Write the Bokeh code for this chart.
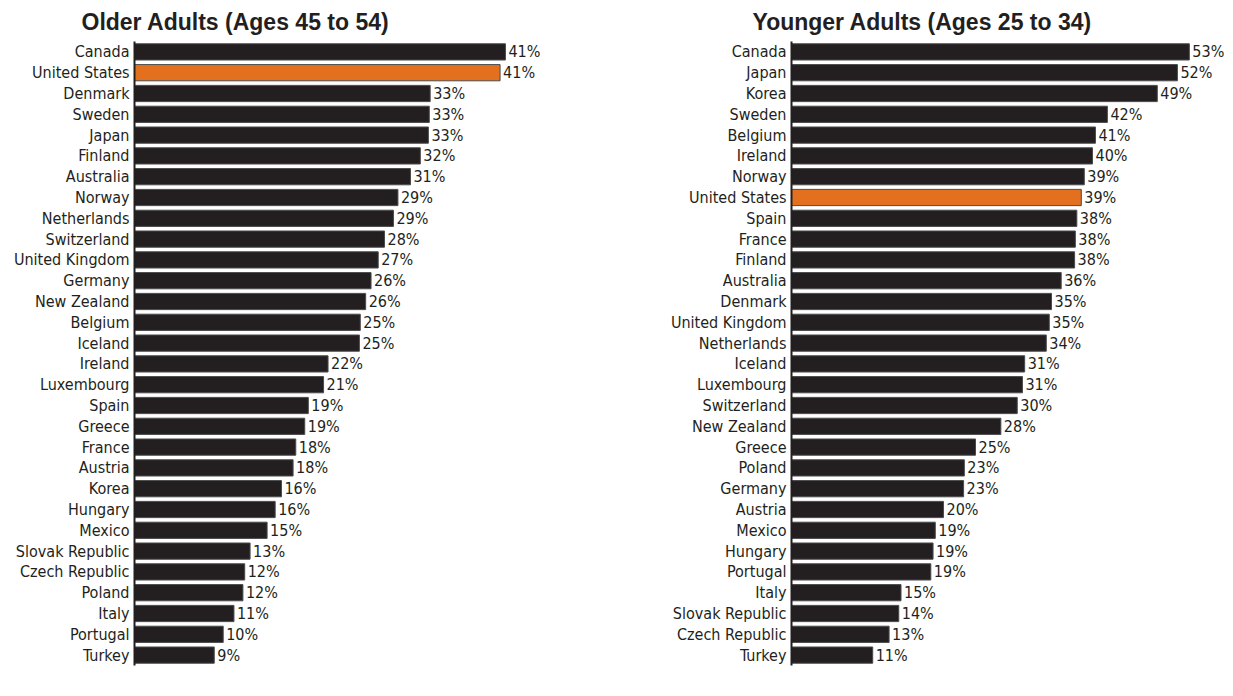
from bokeh.plotting import figure
from bokeh.models import FactorRange, ColumnDataSource, Range1d
from bokeh.layouts import row
from bokeh.embed import file_html
from bokeh.resources import INLINE
from bokeh.core.properties import value

# ---------------- data ----------------
older_countries = ["Canada", "United States", "Denmark", "Sweden", "Japan", "Finland",
                   "Australia", "Norway", "Netherlands", "Switzerland", "United Kingdom",
                   "Germany", "New Zealand", "Belgium", "Iceland", "Ireland", "Luxembourg",
                   "Spain", "Greece", "France", "Austria", "Korea", "Hungary", "Mexico",
                   "Slovak Republic", "Czech Republic", "Poland", "Italy", "Portugal", "Turkey"]
older_values = [41.4, 40.8, 33.0, 32.9, 32.8, 31.9, 30.8, 29.4, 28.9, 27.9, 27.2,
                26.4, 25.8, 25.2, 25.1, 21.6, 21.1, 19.4, 19.0, 18.0, 17.7, 16.4,
                15.7, 14.8, 12.9, 12.3, 12.1, 11.1, 9.9, 8.9]
older_labels = ["41%", "41%", "33%", "33%", "33%", "32%", "31%", "29%", "29%", "28%", "27%",
                "26%", "26%", "25%", "25%", "22%", "21%", "19%", "19%", "18%", "18%", "16%",
                "16%", "15%", "13%", "12%", "12%", "11%", "10%", "9%"]

younger_countries = ["Canada", "Japan", "Korea", "Sweden", "Belgium", "Ireland", "Norway",
                     "United States", "Spain", "France", "Finland", "Australia", "Denmark",
                     "United Kingdom", "Netherlands", "Iceland", "Luxembourg", "Switzerland",
                     "New Zealand", "Greece", "Poland", "Germany", "Austria", "Mexico",
                     "Hungary", "Portugal", "Italy", "Slovak Republic", "Czech Republic", "Turkey"]
younger_values = [53.4, 51.8, 49.1, 42.4, 40.8, 40.4, 39.3, 38.9, 38.3, 38.1, 38.0, 36.2,
                  34.9, 34.6, 34.2, 31.3, 31.0, 30.3, 28.1, 24.7, 23.2, 23.1, 20.4, 19.3,
                  19.0, 18.7, 14.7, 14.4, 13.1, 10.9]
younger_labels = ["53%", "52%", "49%", "42%", "41%", "40%", "39%", "39%", "38%", "38%", "38%",
                  "36%", "35%", "35%", "34%", "31%", "31%", "30%", "28%", "25%", "23%", "23%",
                  "20%", "19%", "19%", "19%", "15%", "14%", "13%", "11%"]

highlight = "United States"

FONT = "DejaVu Sans Condensed"
FSIZE = "16px"
TEXT_COLOR = "#231f20"
BAR_COLOR = "#231f20"
HIGHLIGHT_COLOR = "#e2701f"


def make_panel(title, countries, values, labels, width, border_left, border_right,
               x_end, title_offset):
    colors = [HIGHLIGHT_COLOR if c == highlight else BAR_COLOR for c in countries]
    src = ColumnDataSource(dict(country=countries, val=values, lab=labels, color=colors))
    p = figure(width=width, height=685, output_backend="svg", toolbar_location=None,
               y_range=FactorRange(factors=list(reversed(countries)), range_padding=0),
               x_range=Range1d(0, x_end),
               min_border_left=border_left, min_border_right=border_right,
               min_border_top=39, min_border_bottom=20, title=title)
    p.hbar(y="country", right="val", left=0, height=0.78, source=src,
           fill_color="color", line_color="#4a4a4a", line_width=1)
    p.text(x="val", y="country", text="lab", source=src, x_offset=3,
           text_align="left", text_baseline="middle",
           text_font=value(FONT), text_font_size=FSIZE, text_color=TEXT_COLOR)
    p.xaxis.visible = False
    p.xgrid.visible = False
    p.ygrid.visible = False
    p.outline_line_color = None
    ax = p.yaxis[0]
    ax.axis_line_color = "#231f20"
    ax.axis_line_width = 2
    ax.major_tick_line_color = None
    ax.minor_tick_line_color = None
    ax.major_tick_out = 0
    ax.major_tick_in = 0
    ax.major_label_standoff = 5
    ax.major_label_text_font = FONT
    ax.major_label_text_font_size = FSIZE
    ax.major_label_text_color = TEXT_COLOR
    p.title.text_font = "Liberation Sans"
    p.title.text_font_style = "bold"
    p.title.text_font_size = "23px"
    p.title.text_color = TEXT_COLOR
    p.title.align = "left"
    p.title.offset = title_offset
    p.title.standoff = 13
    return p


left = make_panel("Older Adults (Ages 45 to 54)", older_countries, older_values, older_labels,
                  width=606, border_left=134, border_right=48, x_end=424 / 8.96,
                  title_offset=-53)
right = make_panel("Younger Adults (Ages 25 to 34)", younger_countries, younger_values,
                   younger_labels, width=621, border_left=185, border_right=0,
                   x_end=436 / 7.45, title_offset=-39)

layout = row(left, right)
open("out.html", "w").write(file_html(layout, INLINE))
